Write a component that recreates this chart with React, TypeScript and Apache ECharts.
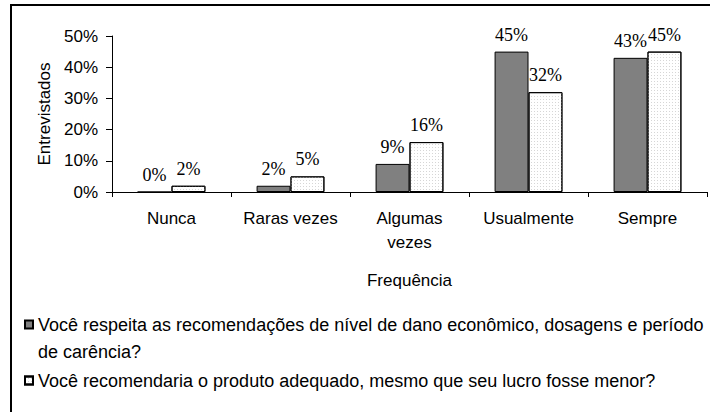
import React, { useEffect, useRef } from "react";
import * as echarts from "echarts";

const categories = ["Nunca", "Raras vezes", "Algumas\nvezes", "Usualmente", "Sempre"];
const seriesNames = [
  "Você respeita as recomendações de nível de dano econômico, dosagens e período de carência?",
  "Você recomendaria o produto adequado, mesmo que seu lucro fosse menor?",
];
const respeita = [0, 2, 9, 45, 43];
const recomendaria = [2, 5, 16, 32, 45];
const yTicksMax = 50;
const yTickStep = 10;

const SANS = "Liberation Sans, Arial, sans-serif";
const SERIF = "Liberation Serif, Times New Roman, serif";

// legend icons: an 8x8 square placed at the top (first text line) or middle of a 8x35 box
const ICON_TOP = "path://M0 0L8 0L8 8L0 8Z M0 35L0 35";
const ICON_MID = "path://M0 0L0 0 M0 13.5L8 13.5L8 21.5L0 21.5Z M0 35L0 35";

export default function App() {
  const ref = useRef<HTMLDivElement>(null);
  useEffect(() => {
    document.body.style.margin = "0";
    const chart = echarts.init(ref.current!, null, { renderer: "svg" });
    const label = {
      show: true,
      position: "top",
      distance: 8,
      formatter: "{c}%",
      fontFamily: SERIF,
      fontSize: 18,
      color: "#000",
    };
    chart.setOption({
      animation: false,
      backgroundColor: "#fff",
      graphic: [
        {
          type: "rect",
          silent: true,
          shape: { x: 11, y: 5, width: 760, height: 500 },
          style: { fill: "none", stroke: "#000", lineWidth: 2 },
        },
      ],
      grid: { left: 112, right: 3, top: 36, bottom: 220 },
      legend: {
        orient: "vertical",
        left: 19,
        top: 306,
        itemWidth: 8,
        itemHeight: 35,
        itemGap: -3,
        selectedMode: false,
        formatter: (name: string) => name.replace(" período de", " período\nde"),
        textStyle: {
          fontFamily: SANS,
          fontSize: 18,
          color: "#000",
          lineHeight: 27,
        },
        data: [
          { name: seriesNames[0], icon: ICON_TOP },
          { name: seriesNames[1], icon: ICON_MID },
        ],
      },
      xAxis: {
        type: "category",
        data: categories,
        name: "Frequência",
        nameLocation: "middle",
        nameGap: 80,
        nameTextStyle: { fontFamily: SANS, fontSize: 17, color: "#000" },
        axisLine: { lineStyle: { color: "#000", width: 1 } },
        axisTick: { show: true, length: 5, lineStyle: { color: "#000" } },
        axisLabel: {
          fontFamily: SANS,
          fontSize: 17,
          color: "#000",
          lineHeight: 24,
          margin: 14,
          interval: 0,
        },
      },
      yAxis: {
        type: "value",
        min: 0,
        max: yTicksMax,
        interval: yTickStep,
        name: "Entrevistados",
        nameLocation: "middle",
        nameGap: 59,
        nameTextStyle: { fontFamily: SANS, fontSize: 17, color: "#000" },
        axisLine: { show: true, lineStyle: { color: "#000", width: 1 } },
        axisTick: { show: true, length: 6, lineStyle: { color: "#000" } },
        splitLine: { show: false },
        axisLabel: {
          formatter: "{value}%",
          fontFamily: SANS,
          fontSize: 17,
          color: "#000",
          margin: 14,
        },
      },
      series: [
        {
          name: seriesNames[0],
          type: "bar",
          data: respeita,
          barGap: "0%",
          barCategoryGap: "43%",
          itemStyle: { color: "#808080", borderColor: "#000", borderWidth: 1 },
          label,
        },
        {
          name: seriesNames[1],
          type: "bar",
          data: recomendaria,
          itemStyle: {
            color: "#ffffff",
            borderColor: "#000",
            borderWidth: 1,
            decal: {
              symbol: "rect",
              symbolSize: 1,
              color: "#d6d6d6",
              dashArrayX: [1, 2],
              dashArrayY: [1, 2],
            },
          },
          label,
        },
      ],
    });
    return () => chart.dispose();
  }, []);
  return <div ref={ref} style={{ width: 710, height: 412 }} />;
}
